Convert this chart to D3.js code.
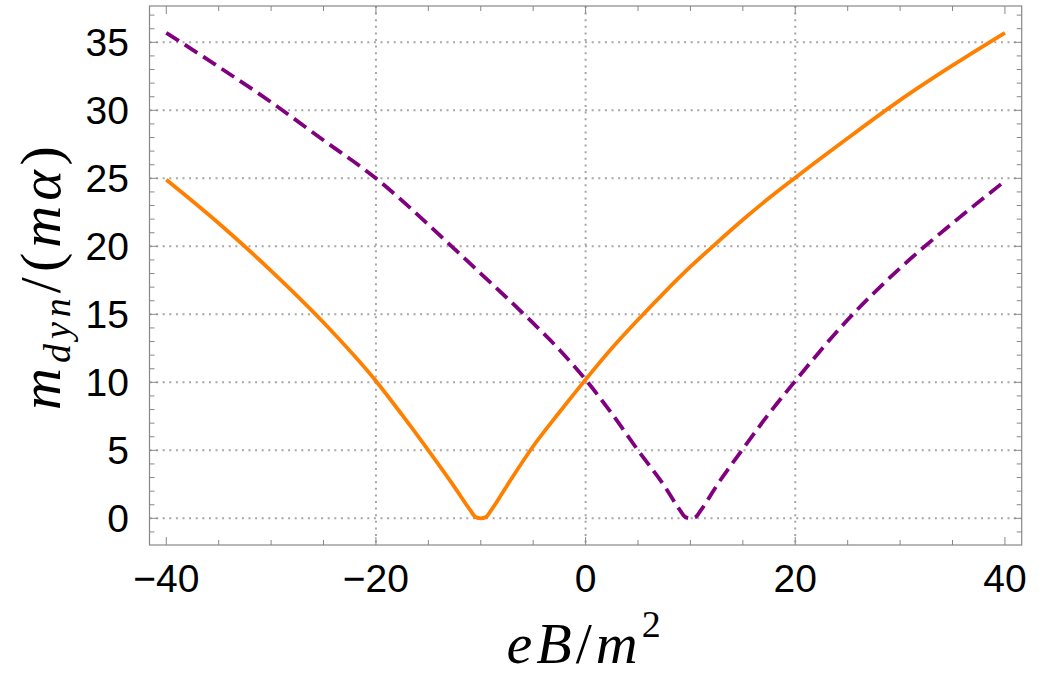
<!DOCTYPE html>
<html>
<head>
<meta charset="utf-8">
<script src="https://cdn.jsdelivr.net/npm/d3@7"></script>
<style>
  html, body { margin: 0; padding: 0; background: #fff; }
  svg { display: block; }
  .tick-label { font-family: "Liberation Sans", Arial, sans-serif; font-size: 39px; fill: #000; }
  .axis-title { font-family: "Liberation Serif", "Times New Roman", serif; font-style: italic; font-size: 58px; fill: #000; }
</style>
</head>
<body>
<svg id="chart"></svg>
<script>
// Orange solid curve: eB/m^2 and m_dyn/(m alpha)
const orangeField = [-40, -35, -30, -25, -20, -17.5, -15, -12.5, -11, -10.5, -10, -9.5, -9, -7.5, -5, -2.5,
  0, 2.5, 5, 7.5, 10, 12.5, 15, 17.5, 20, 25, 30, 35, 40];
const orangeValues = [24.9, 21.7, 18.2, 14.4, 10.1, 7.6, 5.0, 2.3, 0.6, 0.1, 0.0, 0.1, 0.6, 2.4, 5.3, 7.8,
  10.2, 12.5, 14.6, 16.6, 18.5, 20.25, 21.95, 23.55, 25.05, 27.95, 30.75, 33.3, 35.7];

// Purple dashed curve: eB/m^2 and m_dyn/(m alpha)
const purpleField = [-40, -35, -30, -25, -20, -15, -12.5, -10, -7.5, -5, -2.5, 0, 2.5, 5, 7.5, 9, 9.5,
  10, 10.5, 11, 12.5, 15, 17.5, 20, 25, 30, 35, 40];
const purpleValues = [35.7, 33.2, 30.6, 27.8, 25.0, 21.6, 19.8, 18.0, 16.2, 14.35, 12.4, 10.2, 7.7, 5.0, 2.4, 0.6, 0.1,
  0.0, 0.1, 0.6, 2.4, 5.1, 7.7, 10.1, 14.6, 18.4, 21.7, 24.8];

const xMajorTicks = [-40, -20, 0, 20, 40];
const xMinorTicks = [-35, -30, -25, -15, -10, -5, 5, 10, 15, 25, 30, 35];
const xGridValues = [-20, 0, 20];
const yMajorTicks = [0, 5, 10, 15, 20, 25, 30, 35];
const yMinorTicks = d3.range(-1, 38).filter(v => v % 5 !== 0);

// Dimensions
const WIDTH = 1042;
const HEIGHT = 688;
const PLOT_LEFT = 149.5;
const PLOT_RIGHT = 1021.7;
const PLOT_TOP = 6;
const PLOT_BOTTOM = 545;
const MAJOR_TICK = 8;
const MINOR_TICK = 5;
const FRAME_COLOR = '#888';

const svg = d3.select('#chart')
  .attr('width', WIDTH)
  .attr('height', HEIGHT);

const x = d3.scaleLinear().domain([-41.6, 41.6]).range([PLOT_LEFT, PLOT_RIGHT]);
const y = d3.scaleLinear().domain([-1.96, 37.67]).range([PLOT_BOTTOM, PLOT_TOP]);

// Dotted grid lines
const grid = svg.append('g')
  .attr('stroke', '#a6a6a6')
  .attr('stroke-width', 2)
  .attr('stroke-dasharray', '2,4.6');

grid.selectAll('.hgrid')
  .data(yMajorTicks)
  .enter()
  .append('line')
  .attr('x1', PLOT_LEFT)
  .attr('x2', PLOT_RIGHT)
  .attr('y1', d => y(d))
  .attr('y2', d => y(d));

grid.selectAll('.vgrid')
  .data(xGridValues)
  .enter()
  .append('line')
  .attr('x1', d => x(d))
  .attr('x2', d => x(d))
  .attr('y1', PLOT_TOP)
  .attr('y2', PLOT_BOTTOM);

// Frame ticks on all four sides
const ticks = svg.append('g')
  .attr('stroke', FRAME_COLOR)
  .attr('stroke-width', 1);

const drawXTicks = (values, len) => {
  values.forEach(v => {
    ticks.append('line')
      .attr('x1', x(v)).attr('x2', x(v))
      .attr('y1', PLOT_BOTTOM).attr('y2', PLOT_BOTTOM - len);
    ticks.append('line')
      .attr('x1', x(v)).attr('x2', x(v))
      .attr('y1', PLOT_TOP).attr('y2', PLOT_TOP + len);
  });
};

const drawYTicks = (values, len) => {
  values.forEach(v => {
    ticks.append('line')
      .attr('x1', PLOT_LEFT).attr('x2', PLOT_LEFT + len)
      .attr('y1', y(v)).attr('y2', y(v));
    ticks.append('line')
      .attr('x1', PLOT_RIGHT).attr('x2', PLOT_RIGHT - len)
      .attr('y1', y(v)).attr('y2', y(v));
  });
};

drawXTicks(xMajorTicks, MAJOR_TICK);
drawXTicks(xMinorTicks, MINOR_TICK);
drawYTicks(yMajorTicks, MAJOR_TICK);
drawYTicks(yMinorTicks, MINOR_TICK);

// Frame
svg.append('rect')
  .attr('x', PLOT_LEFT)
  .attr('y', PLOT_TOP)
  .attr('width', PLOT_RIGHT - PLOT_LEFT)
  .attr('height', PLOT_BOTTOM - PLOT_TOP)
  .attr('fill', 'none')
  .attr('stroke', FRAME_COLOR)
  .attr('stroke-width', 1.2);

// Curves
const line = d3.line()
  .x(d => x(d[0]))
  .y(d => y(d[1]))
  .curve(d3.curveMonotoneX);

svg.append('path')
  .datum(d3.zip(orangeField, orangeValues))
  .attr('d', line)
  .attr('fill', 'none')
  .attr('stroke', '#ff8000')
  .attr('stroke-width', 3.8)
  .attr('stroke-linejoin', 'round');

svg.append('path')
  .datum(d3.zip(purpleField, purpleValues))
  .attr('d', line)
  .attr('fill', 'none')
  .attr('stroke', '#800080')
  .attr('stroke-width', 3.8)
  .attr('stroke-dasharray', '15,7');

// Tick labels
const fmt = v => (v < 0 ? '\u2212' + Math.abs(v) : String(v));

svg.selectAll('.xlabel')
  .data(xMajorTicks)
  .enter()
  .append('text')
  .attr('class', 'tick-label')
  .attr('x', d => x(d))
  .attr('y', 592)
  .attr('text-anchor', 'middle')
  .text(fmt);

svg.selectAll('.ylabel')
  .data(yMajorTicks)
  .enter()
  .append('text')
  .attr('class', 'tick-label')
  .attr('x', 129)
  .attr('y', d => y(d) + 14)
  .attr('text-anchor', 'end')
  .text(fmt);

// Axis titles
const xTitle = svg.append('text')
  .attr('class', 'axis-title')
  .attr('x', x(0))
  .attr('y', 663)
  .attr('text-anchor', 'middle')
  .attr('letter-spacing', 4);
xTitle.append('tspan').text('eB');
xTitle.append('tspan').attr('font-style', 'normal').text('/');
xTitle.append('tspan').text('m');
xTitle.append('tspan').attr('font-style', 'normal').attr('font-size', 38).attr('dy', -26).text('2');

const yTitle = svg.append('text')
  .attr('class', 'axis-title')
  .attr('transform', `translate(60, ${(PLOT_TOP + PLOT_BOTTOM) / 2}) rotate(-90)`)
  .attr('text-anchor', 'middle')
  .attr('letter-spacing', 5);
yTitle.append('tspan').text('m');
yTitle.append('tspan').attr('font-size', 38).attr('dy', 10).text('dyn');
yTitle.append('tspan').attr('font-style', 'normal').attr('dy', -10).text('/(');
yTitle.append('tspan').text('m\u03b1');
yTitle.append('tspan').attr('font-style', 'normal').text(')');
</script>
</body>
</html>
